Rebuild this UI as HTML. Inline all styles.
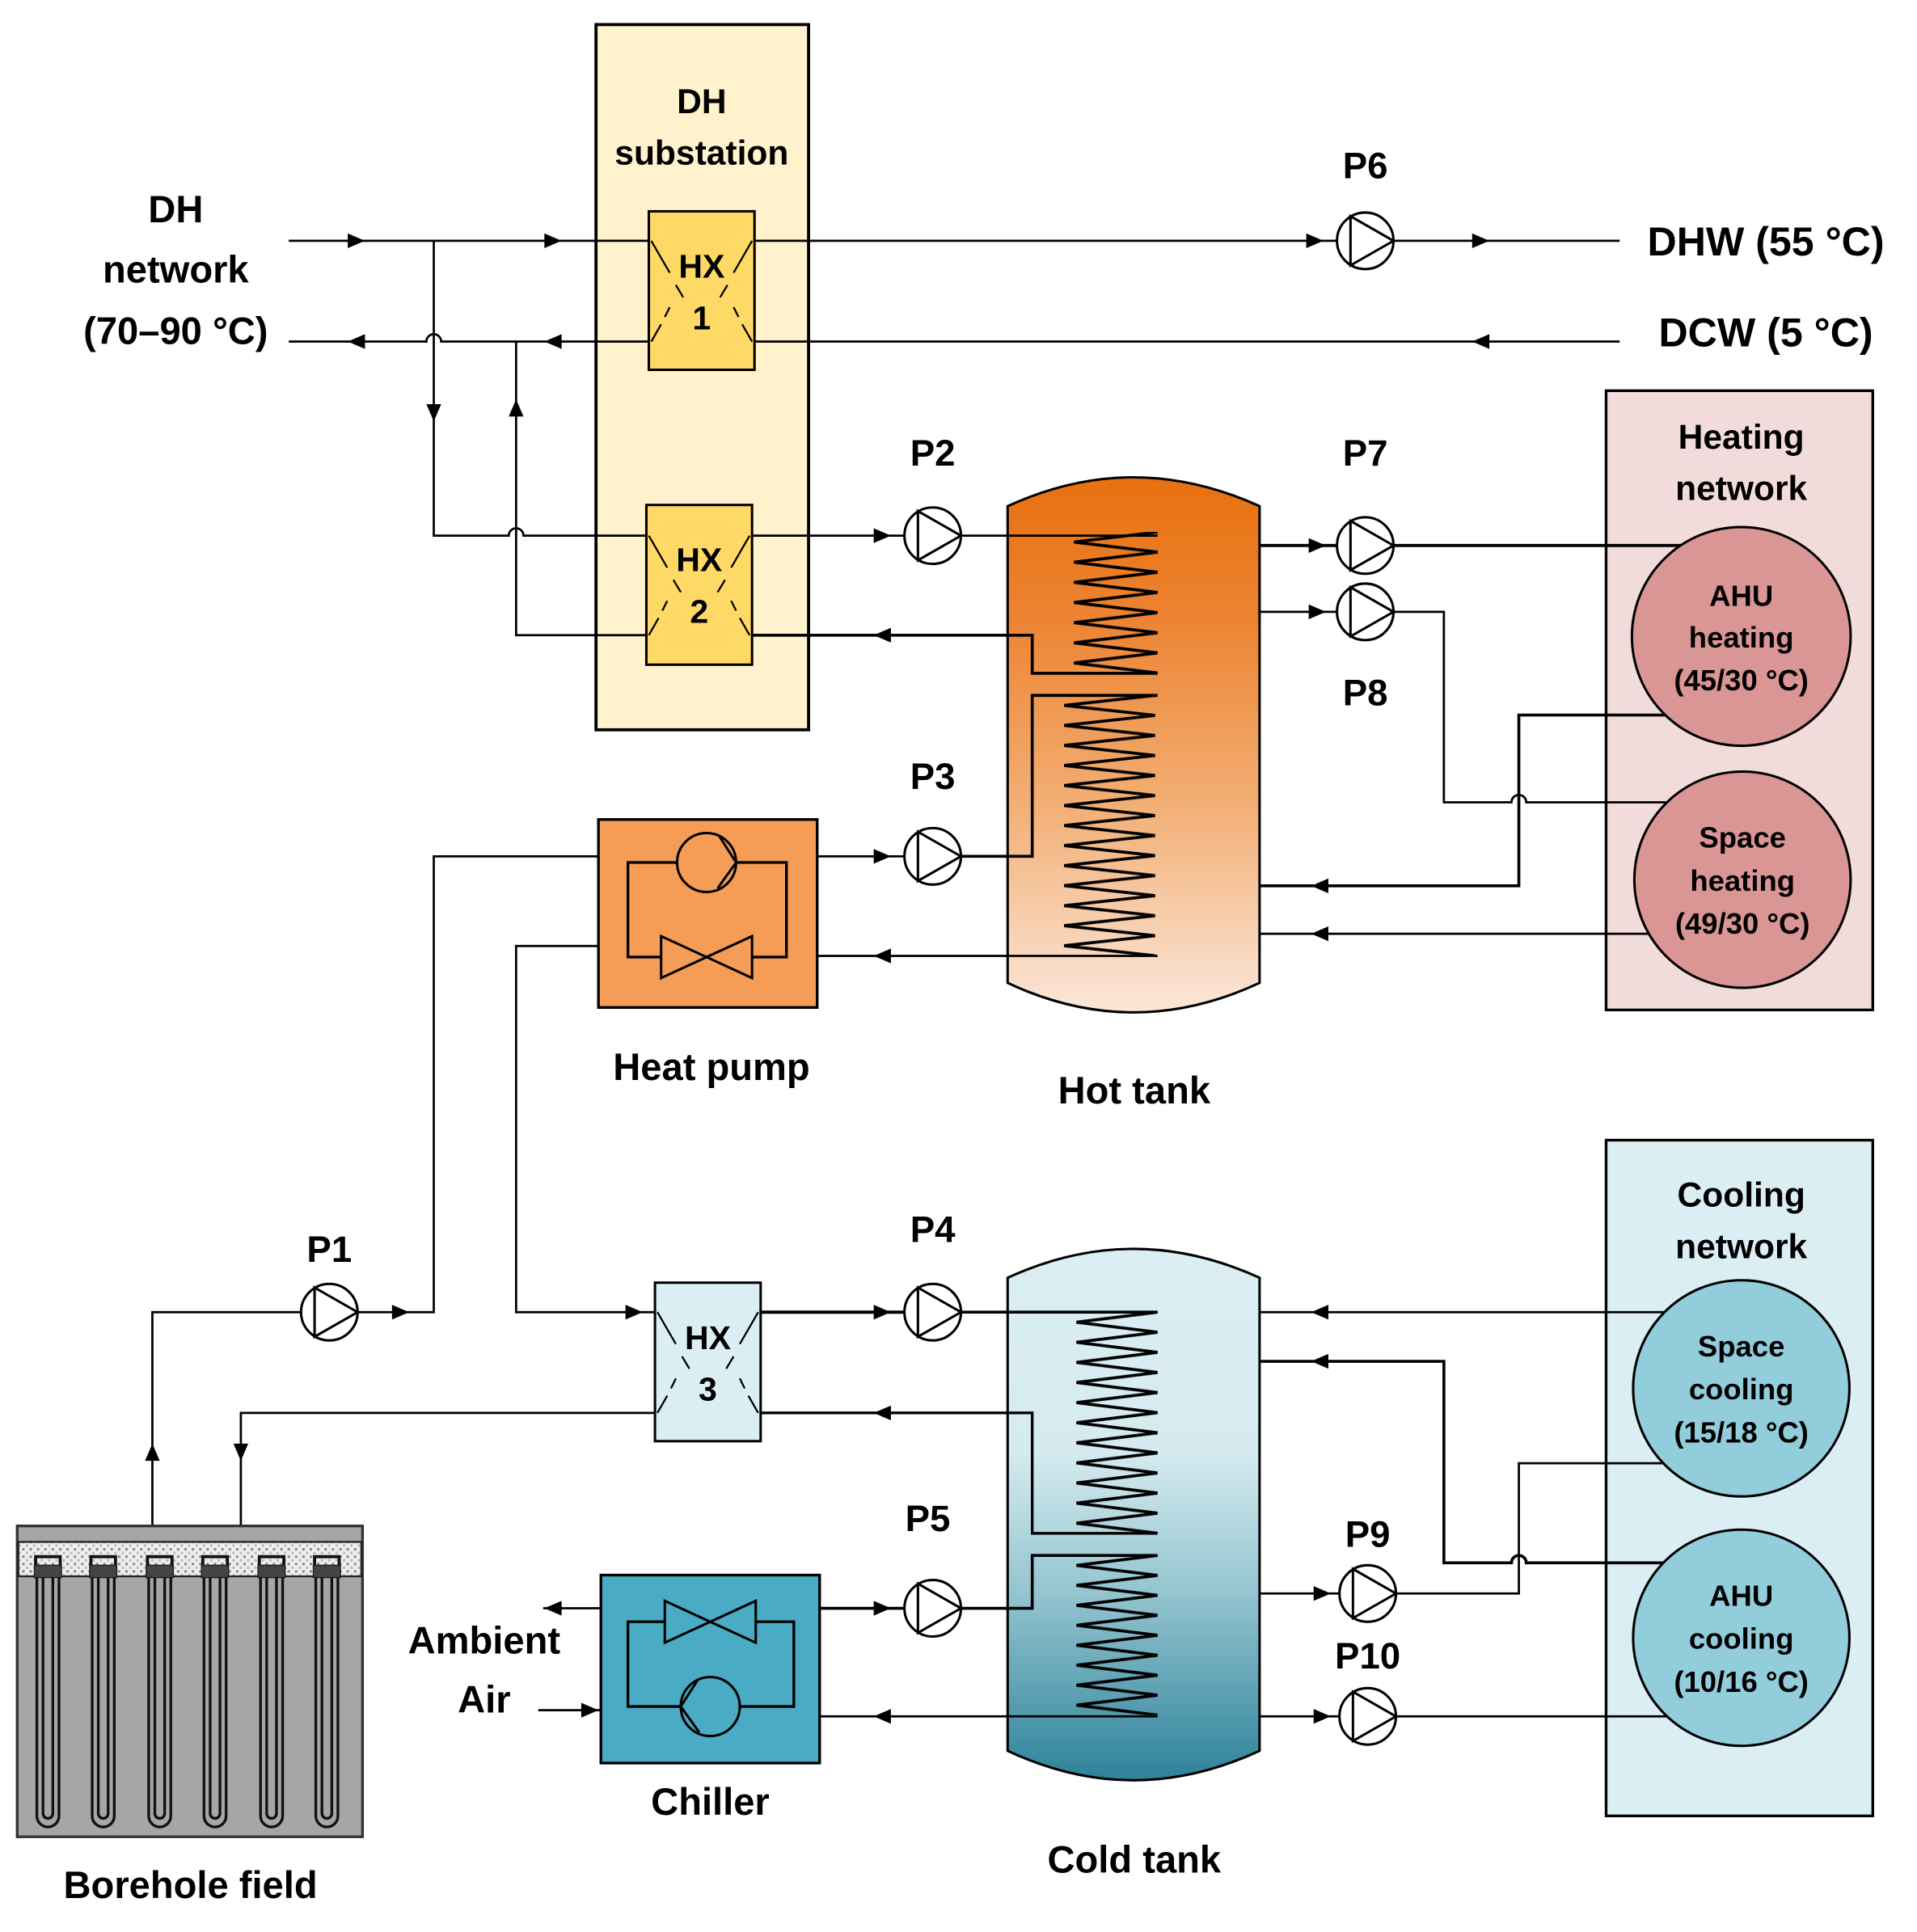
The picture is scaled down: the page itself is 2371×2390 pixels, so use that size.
<!DOCTYPE html>
<html><head><meta charset="utf-8">
<style>
html,body{margin:0;padding:0;background:#fff;}
svg{display:block;}
text{font-family:"Liberation Sans",sans-serif;font-weight:bold;fill:#000;text-anchor:middle;}
</style></head>
<body>
<svg width="2371" height="2390" viewBox="0 0 1560 1572.5" preserveAspectRatio="none" xmlns="http://www.w3.org/2000/svg">
<defs>
<polygon id="ar" points="-7,-6 7,0 -7,6" fill="#000"/>
<g id="pump"><circle cx="0" cy="0" r="23" fill="#fff" stroke="#000" stroke-width="2"/><path d="M-12,-20 L-12,20 L23,0 Z" fill="none" stroke="#000" stroke-width="2"/></g>
<linearGradient id="hot" x1="0" y1="0" x2="0" y2="1">
<stop offset="0" stop-color="#e8700f"/><stop offset="0.25" stop-color="#ec8230"/><stop offset="0.6" stop-color="#f2ad72"/><stop offset="1" stop-color="#fbe7d9"/></linearGradient>
<linearGradient id="cold" x1="0" y1="0" x2="0" y2="1">
<stop offset="0" stop-color="#daeef3"/><stop offset="0.38" stop-color="#d6ebf0"/><stop offset="0.65" stop-color="#93c4cf"/><stop offset="1" stop-color="#2e829a"/></linearGradient>
<pattern id="zzh1" patternUnits="userSpaceOnUse" x="0" y="433" width="1560" height="16.4"><path d="M942,0 L874,8.2 L942,16.4" fill="none" stroke="#000" stroke-width="2.4"/></pattern>
<pattern id="zzh2" patternUnits="userSpaceOnUse" x="0" y="566" width="1560" height="16.3"><path d="M940,0 L866,8.15 L940,16.3" fill="none" stroke="#000" stroke-width="2.4"/></pattern>
<pattern id="zzc1" patternUnits="userSpaceOnUse" x="0" y="1068" width="1560" height="16.36"><path d="M942,0 L876,8.18 L942,16.36" fill="none" stroke="#000" stroke-width="2.4"/></pattern>
<pattern id="zzc2" patternUnits="userSpaceOnUse" x="0" y="1266" width="1560" height="16.25"><path d="M942,0 L876,8.12 L942,16.25" fill="none" stroke="#000" stroke-width="2.4"/></pattern>
<pattern id="hatch" patternUnits="userSpaceOnUse" width="6" height="6"><rect width="6" height="6" fill="#eee"/><rect x="0" y="0" width="2" height="2" fill="#888"/><rect x="3" y="3" width="2" height="2" fill="#bbb"/></pattern>
</defs>

<rect x="485" y="20" width="173" height="574" fill="#fff2cc" stroke="#000" stroke-width="2.5"/>
<text x="571" y="92" font-size="28">DH</text>
<text x="571" y="134" font-size="28">substation</text>
<rect x="1307" y="318" width="217" height="504" fill="#f2dcdb" stroke="#000" stroke-width="2.2"/>
<text x="1417" y="365" font-size="28">Heating</text>
<text x="1417" y="407" font-size="28">network</text>
<rect x="1307" y="928" width="217" height="550" fill="#dbeef4" stroke="#000" stroke-width="2.2"/>
<text x="1417" y="982" font-size="28">Cooling</text>
<text x="1417" y="1024" font-size="28">network</text>

<path d="M820,412 Q922,365 1025,412 L1025,800 Q922,848 820,800 Z" fill="url(#hot)" stroke="#000" stroke-width="2"/>
<rect x="866" y="433" width="78" height="115" fill="url(#zzh1)"/>
<rect x="860" y="566" width="84" height="212" fill="url(#zzh2)"/>
<text x="923" y="898" font-size="31">Hot tank</text>
<path d="M820,1040 Q922,993 1025,1040 L1025,1425 Q922,1473 820,1425 Z" fill="url(#cold)" stroke="#000" stroke-width="2"/>
<rect x="870" y="1068" width="74" height="180" fill="url(#zzc1)"/>
<rect x="870" y="1266" width="74" height="130" fill="url(#zzc2)"/>
<text x="923" y="1524" font-size="31">Cold tank</text>

<text x="143" y="181" font-size="31">DH</text>
<text x="143" y="230" font-size="31">network</text>
<text x="143" y="280" font-size="31">(70–90 °C)</text>

<g fill="none" stroke="#000" stroke-width="1.8">
<path d="M235,196 L528,196"/>
<path d="M235,278 L347,278 A6,6 0 0 1 359,278 L528,278"/>
<path d="M614,196 L1088,196"/>
<path d="M1134,196 L1318,196"/>
<path d="M614,278 L1318,278"/>
<path d="M353,196 L353,436 L414,436 A6,6 0 0 1 426,436 L526,436"/>
<path d="M420,278 L420,517 L526,517"/>
<path d="M612,436 L736,436"/>
<path d="M782,436 L942,436"/>
<path d="M612,517 L840,517 L840,548 L942,548" stroke-width="2.4"/>
<path d="M942,566 L840,566 L840,697 L782,697" stroke-width="2.4"/>
<path d="M665,697 L736,697"/>
<path d="M665,778 L942,778"/>
<path d="M487,697 L353,697 L353,1068 L290,1068"/>
<path d="M246,1068 L124,1068 L124,1242"/>
<path d="M487,770 L420,770 L420,1068 L533,1068"/>
<path d="M533,1150 L196,1150 L196,1242"/>
<path d="M619,1068 L736,1068" stroke-width="2.6"/>
<path d="M782,1068 L942,1068" stroke-width="2.4"/>
<path d="M619,1150 L840,1150 L840,1248 L942,1248" stroke-width="2.2"/>
<path d="M942,1266 L840,1266 L840,1309 L782,1309" stroke-width="2.4"/>
<path d="M667,1309 L736,1309" stroke-width="2.4"/>
<path d="M667,1397 L942,1397"/>
<path d="M489,1309 L442,1309"/>
<path d="M438,1392 L489,1392"/>
<path d="M1025,444 L1088,444" stroke-width="2.6"/>
<path d="M1134,444 L1374,444" stroke-width="2.6"/>
<path d="M1025,498 L1088,498"/>
<path d="M1134,498 L1175,498 L1175,653 L1230,653 A6,6 0 0 1 1242,653 L1364,653"/>
<path d="M1364,582 L1236,582 L1236,721 L1025,721" stroke-width="2.4"/>
<path d="M1352,760 L1025,760"/>
<path d="M1362,1068 L1025,1068"/>
<path d="M1025,1108 L1175,1108 L1175,1272 L1230,1272 A6,6 0 0 1 1242,1272 L1362,1272" stroke-width="2.4"/>
<path d="M1362,1191 L1236,1191 L1236,1297 L1136,1297"/>
<path d="M1025,1297 L1090,1297"/>
<path d="M1025,1397 L1090,1397"/>
<path d="M1136,1397 L1364,1397"/>
</g>

<use href="#ar" transform="translate(290,196)"/>
<use href="#ar" transform="translate(450,196)"/>
<use href="#ar" transform="translate(290,278) rotate(180)"/>
<use href="#ar" transform="translate(450,278) rotate(180)"/>
<use href="#ar" transform="translate(1070,196)"/>
<use href="#ar" transform="translate(1205,196)"/>
<use href="#ar" transform="translate(1205,278) rotate(180)"/>
<use href="#ar" transform="translate(353,336) rotate(90)"/>
<use href="#ar" transform="translate(420,332) rotate(-90)"/>
<use href="#ar" transform="translate(718,436)"/>
<use href="#ar" transform="translate(718,517) rotate(180)"/>
<use href="#ar" transform="translate(718,697)"/>
<use href="#ar" transform="translate(718,778) rotate(180)"/>
<use href="#ar" transform="translate(1072,444)"/>
<use href="#ar" transform="translate(1072,498)"/>
<use href="#ar" transform="translate(1074,721) rotate(180)"/>
<use href="#ar" transform="translate(1074,760) rotate(180)"/>
<use href="#ar" transform="translate(326,1068)"/>
<use href="#ar" transform="translate(516,1068)"/>
<use href="#ar" transform="translate(124,1182) rotate(-90)"/>
<use href="#ar" transform="translate(196,1182) rotate(90)"/>
<use href="#ar" transform="translate(718,1068)"/>
<use href="#ar" transform="translate(718,1150) rotate(180)"/>
<use href="#ar" transform="translate(718,1309)"/>
<use href="#ar" transform="translate(718,1397) rotate(180)"/>
<use href="#ar" transform="translate(450,1309) rotate(180)"/>
<use href="#ar" transform="translate(480,1392)"/>
<use href="#ar" transform="translate(1074,1068) rotate(180)"/>
<use href="#ar" transform="translate(1074,1108) rotate(180)"/>
<use href="#ar" transform="translate(1076,1297)"/>
<use href="#ar" transform="translate(1076,1397)"/>

<rect x="528" y="172" width="86" height="129" fill="#ffd966" stroke="#000" stroke-width="2"/>
<g stroke="#000" stroke-width="1.5" fill="none">
<path d="M530,196 L545,222 M550,232 L556,242"/><path d="M612,196 L597,222 M592,232 L586,242"/>
<path d="M530,278 L538,264 M541,258 L545,250"/><path d="M612,278 L604,264 M601,258 L597,250"/>
</g>
<text x="571" y="226" font-size="27">HX</text>
<text x="571" y="268" font-size="27">1</text>
<rect x="526" y="411" width="86" height="130" fill="#ffd966" stroke="#000" stroke-width="2"/>
<g stroke="#000" stroke-width="1.5" fill="none">
<path d="M528,436 L543,462 M548,472 L554,482"/><path d="M610,436 L595,462 M590,472 L584,482"/>
<path d="M528,517 L536,503 M539,497 L543,489"/><path d="M610,517 L602,503 M599,497 L595,489"/>
</g>
<text x="569" y="465" font-size="27">HX</text>
<text x="569" y="507" font-size="27">2</text>
<rect x="533" y="1044" width="86" height="129" fill="#dbeef4" stroke="#000" stroke-width="2"/>
<g stroke="#000" stroke-width="1.5" fill="none">
<path d="M535,1068 L550,1094 M555,1104 L561,1114"/><path d="M617,1068 L602,1094 M597,1104 L591,1114"/>
<path d="M535,1150 L543,1136 M546,1130 L550,1122"/><path d="M617,1150 L609,1136 M606,1130 L602,1122"/>
</g>
<text x="576" y="1098" font-size="27">HX</text>
<text x="576" y="1140" font-size="27">3</text>

<use href="#pump" transform="translate(1111,196)"/>
<use href="#pump" transform="translate(759,436)"/>
<use href="#pump" transform="translate(759,697)"/>
<use href="#pump" transform="translate(1111,444)"/>
<use href="#pump" transform="translate(1111,498)"/>
<use href="#pump" transform="translate(268,1068)"/>
<use href="#pump" transform="translate(759,1068)"/>
<use href="#pump" transform="translate(759,1309)"/>
<use href="#pump" transform="translate(1113,1297)"/>
<use href="#pump" transform="translate(1113,1397)"/>
<g font-size="30">
<text x="1111" y="145">P6</text>
<text x="759" y="379">P2</text>
<text x="1111" y="379">P7</text>
<text x="1111" y="574">P8</text>
<text x="759" y="642">P3</text>
<text x="268" y="1027">P1</text>
<text x="759" y="1011">P4</text>
<text x="755" y="1246">P5</text>
<text x="1113" y="1259">P9</text>
<text x="1113" y="1358">P10</text>
</g>

<text x="1437" y="208" font-size="33">DHW (55 °C)</text>
<text x="1437" y="282" font-size="33">DCW (5 °C)</text>

<rect x="487" y="667" width="178" height="153" fill="#f59d56" stroke="#000" stroke-width="2.2"/>
<path d="M551,702 L511,702 L511,779 L538,779 M612,779 L640,779 L640,702 L599,702" fill="none" stroke="#000" stroke-width="2.2"/>
<circle cx="575" cy="702" r="24" fill="none" stroke="#000" stroke-width="2"/>
<path d="M585,680 L599,702 L584,723" fill="none" stroke="#000" stroke-width="2"/>
<path d="M538,762 L612,796 L612,762 L538,796 Z" fill="none" stroke="#000" stroke-width="2"/>
<text x="579" y="879" font-size="31">Heat pump</text>

<rect x="489" y="1282" width="178" height="153" fill="#4aabc5" stroke="#000" stroke-width="2.2"/>
<path d="M541,1320 L511,1320 L511,1389 L554,1389 M602,1389 L646,1389 L646,1320 L615,1320" fill="none" stroke="#000" stroke-width="2.2"/>
<path d="M541,1303 L615,1337 L615,1303 L541,1337 Z" fill="none" stroke="#000" stroke-width="2"/>
<circle cx="578" cy="1389" r="24" fill="none" stroke="#000" stroke-width="2"/>
<path d="M568,1367 L554,1389 L569,1410" fill="none" stroke="#000" stroke-width="2"/>
<text x="394" y="1346" font-size="31">Ambient</text>
<text x="394" y="1394" font-size="31">Air</text>
<text x="578" y="1477" font-size="31">Chiller</text>

<circle cx="1417" cy="518" r="89" fill="#d99694" stroke="#000" stroke-width="2"/>
<text x="1417" y="493" font-size="24">AHU</text>
<text x="1417" y="527" font-size="24">heating</text>
<text x="1417" y="562" font-size="24">(45/30 °C)</text>
<circle cx="1418" cy="716" r="88" fill="#d99694" stroke="#000" stroke-width="2"/>
<text x="1418" y="690" font-size="24">Space</text>
<text x="1418" y="725" font-size="24">heating</text>
<text x="1418" y="760" font-size="24">(49/30 °C)</text>
<circle cx="1417" cy="1130" r="88" fill="#92cddc" stroke="#000" stroke-width="2"/>
<text x="1417" y="1104" font-size="24">Space</text>
<text x="1417" y="1139" font-size="24">cooling</text>
<text x="1417" y="1174" font-size="24">(15/18 °C)</text>
<circle cx="1417" cy="1333" r="88" fill="#92cddc" stroke="#000" stroke-width="2"/>
<text x="1417" y="1307" font-size="24">AHU</text>
<text x="1417" y="1342" font-size="24">cooling</text>
<text x="1417" y="1377" font-size="24">(10/16 °C)</text>

<rect x="14" y="1242" width="281" height="253" fill="#a6a6a6" stroke="#333" stroke-width="2.2"/>
<rect x="15" y="1255" width="279" height="28" fill="url(#hatch)" stroke="#222" stroke-width="1.5"/>
<g fill="none" stroke="#111" stroke-width="2.5">
<path d="M29,1276 L29,1267 L49,1267 L49,1276"/>
<path d="M74,1276 L74,1267 L94,1267 L94,1276"/>
<path d="M120,1276 L120,1267 L140,1267 L140,1276"/>
<path d="M165,1276 L165,1267 L185,1267 L185,1276"/>
<path d="M211,1276 L211,1267 L231,1267 L231,1276"/>
<path d="M256,1276 L256,1267 L276,1267 L276,1276"/>
</g>
<g fill="#444" stroke="#222" stroke-width="1">
<rect x="28" y="1274" width="22" height="10"/><rect x="73" y="1274" width="22" height="10"/>
<rect x="119" y="1274" width="22" height="10"/><rect x="164" y="1274" width="22" height="10"/>
<rect x="210" y="1274" width="22" height="10"/><rect x="255" y="1274" width="22" height="10"/>
</g>
<g fill="none" stroke="#111" stroke-width="2.2">
<path d="M30,1284 L30,1478 A9,9 0 0 0 48,1478 L48,1284"/>
<path d="M75,1284 L75,1478 A9,9 0 0 0 93,1478 L93,1284"/>
<path d="M121,1284 L121,1478 A9,9 0 0 0 139,1478 L139,1284"/>
<path d="M166,1284 L166,1478 A9,9 0 0 0 184,1478 L184,1284"/>
<path d="M212,1284 L212,1478 A9,9 0 0 0 230,1478 L230,1284"/>
<path d="M257,1284 L257,1478 A9,9 0 0 0 275,1478 L275,1284"/>
<path d="M35,1284 L35,1476 A4,4 0 0 0 43,1476 L43,1284"/>
<path d="M80,1284 L80,1476 A4,4 0 0 0 88,1476 L88,1284"/>
<path d="M126,1284 L126,1476 A4,4 0 0 0 134,1476 L134,1284"/>
<path d="M171,1284 L171,1476 A4,4 0 0 0 179,1476 L179,1284"/>
<path d="M217,1284 L217,1476 A4,4 0 0 0 225,1476 L225,1284"/>
<path d="M262,1284 L262,1476 A4,4 0 0 0 270,1476 L270,1284"/>
</g>
<text x="155" y="1545" font-size="31">Borehole field</text>
</svg>
</body></html>
